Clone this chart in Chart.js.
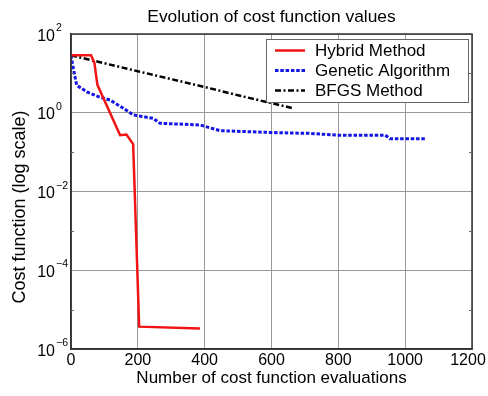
<!DOCTYPE html>
<html>
<head>
<meta charset="utf-8">
<script src="https://cdn.jsdelivr.net/npm/chart.js@4.4.1/dist/chart.umd.min.js"></script>
<style>
  body { margin: 0; background: #fff; }
</style>
</head>
<body>
<canvas id="costChart" width="488" height="396"></canvas>
<script>
// evaluations / cost values
const hybridX = [0, 60, 70, 79, 147, 166, 186, 204, 386];
const hybridY = [28.8, 28.8, 18.4, 5.1, 0.27, 0.28, 0.16, 3.7e-6, 3.3e-6];

const geneticX = [0, 4, 17, 47, 82, 117, 157, 186, 246, 266, 386, 446, 625, 715, 795, 940, 955, 1064];
const geneticY = [28.8, 18, 5, 3.4, 2.56, 2.1, 1.3, 0.88, 0.72, 0.54, 0.49, 0.35, 0.31, 0.30, 0.27, 0.27, 0.22, 0.22];

const bfgsX = [0, 206, 400, 506, 665];
const bfgsY = [28.8, 11, 4.5, 2.7, 1.3];

const yMajorTicks = [1e-6, 1e-4, 1e-2, 1, 100];
const yTickExponents = ['\u22126', '\u22124', '\u22122', '0', '2'];
const yMinorTicks = [1e-5, 1e-3, 1e-1, 10];

const FONT = '"Liberation Sans", Arial, Helvetica, sans-serif';
Chart.defaults.font.family = FONT;
Chart.defaults.color = '#000';

function points(xs, ys) {
  return xs.map((x, i) => ({ x: x, y: ys[i] }));
}

// title, frame, minor ticks, 10^n labels, y title and legend box
const decorations = {
  id: 'decorations',
  afterDraw(chart) {
    const { ctx, chartArea: a, scales: { y } } = chart;
    ctx.save();

    ctx.fillStyle = '#000';
    ctx.font = '17.4px ' + FONT;
    ctx.textAlign = 'center';
    ctx.textBaseline = 'alphabetic';
    ctx.fillText('Evolution of cost function values', (a.left + a.right) / 2, 22);

    ctx.strokeStyle = '#333';
    ctx.lineWidth = 1.5;
    ctx.strokeRect(a.left, a.top, a.right - a.left, a.bottom - a.top);

    ctx.lineWidth = 1;
    ctx.strokeStyle = '#666';
    yMinorTicks.forEach(v => {
      const py = Math.round(y.getPixelForValue(v)) + 0.5;
      ctx.beginPath();
      ctx.moveTo(a.left, py); ctx.lineTo(a.left + 3, py);
      ctx.moveTo(a.right, py); ctx.lineTo(a.right - 3, py);
      ctx.stroke();
    });

    yMajorTicks.forEach((v, i) => {
      const py = y.getPixelForValue(v);
      ctx.font = '16px ' + FONT;
      ctx.textAlign = 'right';
      ctx.fillText('10', a.left - 16, py + 6.7);
      ctx.font = '10.5px ' + FONT;
      ctx.textAlign = 'left';
      ctx.fillText(yTickExponents[i], a.left - 15, py - 3);
    });

    ctx.save();
    ctx.translate(20, 207);
    ctx.rotate(-Math.PI / 2);
    ctx.font = '18px ' + FONT;
    ctx.textAlign = 'center';
    ctx.textBaseline = 'middle';
    ctx.fillText('Cost function (log scale)', 0, 0);
    ctx.restore();

    // legend
    const lx = a.right - 206, ly = a.top + 5, lw = 202, lh = 63;
    ctx.fillStyle = '#fff';
    ctx.fillRect(lx, ly, lw, lh);
    ctx.strokeStyle = '#666';
    ctx.lineWidth = 1;
    ctx.strokeRect(lx + 0.5, ly + 0.5, lw, lh);
    chart.data.datasets.forEach((ds, i) => {
      const cy = ly + 11.5 + i * 20;
      ctx.strokeStyle = ds.borderColor;
      ctx.lineWidth = ds.borderWidth;
      ctx.setLineDash(ds.borderDash || []);
      ctx.beginPath();
      ctx.moveTo(lx + 9, cy);
      ctx.lineTo(lx + 39, cy);
      ctx.stroke();
      ctx.setLineDash([]);
      ctx.fillStyle = '#000';
      ctx.font = '17px ' + FONT;
      ctx.textAlign = 'left';
      ctx.textBaseline = 'middle';
      ctx.fillText(ds.label, lx + 49, cy + 1);
    });

    ctx.restore();
  }
};

new Chart(document.getElementById('costChart'), {
  type: 'line',
  data: {
    datasets: [{
      label: 'Hybrid Method',
      data: points(hybridX, hybridY),
      borderColor: '#f01414',
      borderWidth: 2.5,
      pointRadius: 0,
      fill: false,
      tension: 0
    }, {
      label: 'Genetic Algorithm',
      data: points(geneticX, geneticY),
      borderColor: '#1414e6',
      borderWidth: 3,
      borderDash: [3.5, 1.8],
      pointRadius: 0,
      fill: false,
      tension: 0
    }, {
      label: 'BFGS Method',
      data: points(bfgsX, bfgsY),
      borderColor: '#000',
      borderWidth: 2.5,
      borderDash: [6, 2.5, 2, 2.5],
      pointRadius: 0,
      fill: false,
      tension: 0
    }]
  },
  options: {
    responsive: false,
    animation: false,
    layout: { padding: { left: 0, right: 16, top: 34, bottom: 0 } },
    plugins: {
      legend: { display: false },
      tooltip: { enabled: false },
      title: { display: false }
    },
    scales: {
      x: {
        type: 'linear',
        min: 0,
        max: 1200,
        ticks: {
          stepSize: 200,
          font: { size: 16 },
          color: '#000',
          padding: 2,
          maxRotation: 0,
          // last label pushed left a little so it stays inside the canvas
          callback: v => v === 1200 ? '1200\u2002' : String(v)
        },
        grid: { color: '#999', drawTicks: false },
        border: { color: '#333', width: 1.5 },
        title: {
          display: true,
          text: 'Number of cost function evaluations',
          font: { size: 17 },
          color: '#000',
          padding: { top: 0, bottom: 7 }
        },
        afterFit: s => { s.height = 47; s.paddingLeft = 0; s.paddingRight = 0; }
      },
      y: {
        type: 'logarithmic',
        min: 1e-6,
        max: 100,
        afterBuildTicks: s => { s.ticks = yMajorTicks.map(v => ({ value: v })); },
        afterFit: s => { s.width = 71; s.paddingTop = 0; s.paddingBottom = 0; },
        ticks: { display: false },
        grid: { color: '#999', drawTicks: false },
        border: { color: '#333', width: 1.5 }
      }
    }
  },
  plugins: [decorations]
});
</script>
</body>
</html>
